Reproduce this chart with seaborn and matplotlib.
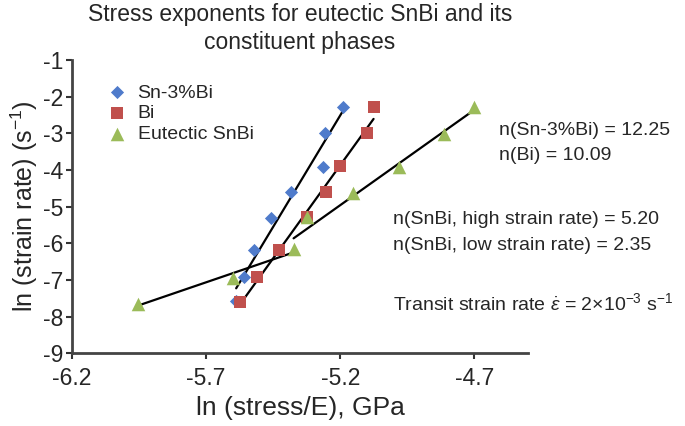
import numpy as np
import pandas as pd
import seaborn as sns
import matplotlib
matplotlib.use("Agg")
import matplotlib.pyplot as plt

# 데이터
sn_x = [-5.588, -5.558, -5.521, -5.457, -5.384, -5.266, -5.256, -5.190]
sn_y = [-7.58, -6.92, -6.19, -5.30, -4.60, -3.92, -2.99, -2.28]

bi_x = [-5.573, -5.509, -5.430, -5.324, -5.255, -5.200, -5.100, -5.076]
bi_y = [-7.60, -6.92, -6.19, -5.28, -4.60, -3.90, -2.99, -2.28]

eu_x = [-5.953, -5.598, -5.374, -5.324, -5.154, -4.980, -4.812, -4.700]
eu_y = [-7.65, -6.94, -6.17, -5.28, -4.63, -3.92, -3.02, -2.28]

series_names = ['Sn-3%Bi', 'Bi', 'Eutectic SnBi']
n_labels = ['n(Sn-3%Bi) = 12.25', 'n(Bi) = 10.09',
            'n(SnBi, high strain rate) = 5.20', 'n(SnBi, low strain rate) = 2.35']

df = pd.DataFrame({
    'x': sn_x + bi_x + eu_x,
    'y': sn_y + bi_y + eu_y,
    'phase': [series_names[0]] * len(sn_x) + [series_names[1]] * len(bi_x) + [series_names[2]] * len(eu_x),
})

sns.set_theme(style="ticks")
plt.rcParams['font.family'] = ['Liberation Sans', 'DejaVu Sans']
plt.rcParams['mathtext.fontset'] = 'custom'
plt.rcParams['mathtext.rm'] = 'Liberation Sans'
plt.rcParams['mathtext.it'] = 'Liberation Sans:italic'

fig = plt.figure(figsize=(6.85, 4.26), dpi=100)
ax = fig.add_axes([0.105, 0.171, 0.666, 0.688])

# 회귀선 (검은 실선)
line_kw = dict(scatter=False, ci=None, truncate=True, color='black', line_kws={'linewidth': 1.6})
sns.regplot(x=sn_x, y=sn_y, ax=ax, **line_kw)
sns.regplot(x=bi_x, y=bi_y, ax=ax, **line_kw)
sns.regplot(x=eu_x[2:], y=eu_y[2:], ax=ax, **line_kw)   # high strain rate
sns.regplot(x=eu_x[:3], y=eu_y[:3], ax=ax, **line_kw)   # low strain rate

palette = {'Sn-3%Bi': '#4F7BCB', 'Bi': '#C0504D', 'Eutectic SnBi': '#9BBB59'}
markers = {'Sn-3%Bi': 'D', 'Bi': 's', 'Eutectic SnBi': '^'}
sizes = {'Sn-3%Bi': 45, 'Bi': 80, 'Eutectic SnBi': 95}
for name in series_names:
    sns.scatterplot(data=df[df['phase'] == name], x='x', y='y', color=palette[name],
                    marker=markers[name], s=sizes[name], linewidth=0, ax=ax, zorder=3,
                    label=name)

ax.set_xlim(-6.2, -4.5)
ax.set_ylim(-9, -1)
ax.set_xticks([-6.2, -5.7, -5.2, -4.7])
ax.set_xticklabels(['-6.2', '-5.7', '-5.2', '-4.7'])
ax.set_yticks(range(-9, 0))
ax.set_yticklabels([str(v) for v in range(-9, 0)])
ax.tick_params(labelsize=16.5, length=4, width=1.5, color='#333333')
ax.tick_params(axis='x', pad=6)
ax.tick_params(axis='y', pad=2)
for side in ['left', 'bottom']:
    ax.spines[side].set_linewidth(2)
    ax.spines[side].set_color('#444444')
sns.despine(ax=ax)

ax.set_xlabel('ln (stress/E), GPa', fontsize=19, labelpad=4)
ax.set_ylabel('ln (strain rate) (s$^{-1}$)', fontsize=18, labelpad=2)
ax.set_title('Stress exponents for eutectic SnBi and its\nconstituent phases',
             fontsize=16.5, pad=8, linespacing=1.25)

leg = ax.legend(loc='upper left', bbox_to_anchor=(0.05, 0.945), frameon=False,
                fontsize=14, handletextpad=0.3, handlelength=1.5,
                labelspacing=0.15, borderaxespad=0)

# 응력 지수 텍스트
ax.text(-4.607, -2.91, n_labels[0], fontsize=14, va='center')
ax.text(-4.607, -3.60, n_labels[1], fontsize=14, va='center')
ax.text(-5.002, -5.36, n_labels[2], fontsize=14, va='center')
ax.text(-5.002, -6.06, n_labels[3], fontsize=14, va='center')
ax.text(-5.002, -7.64, r'Transit strain rate $\dot{\varepsilon}$ = 2×10$^{-3}$ s$^{-1}$',
        fontsize=14, va='center')

plt.savefig('out.png', dpi=100)
